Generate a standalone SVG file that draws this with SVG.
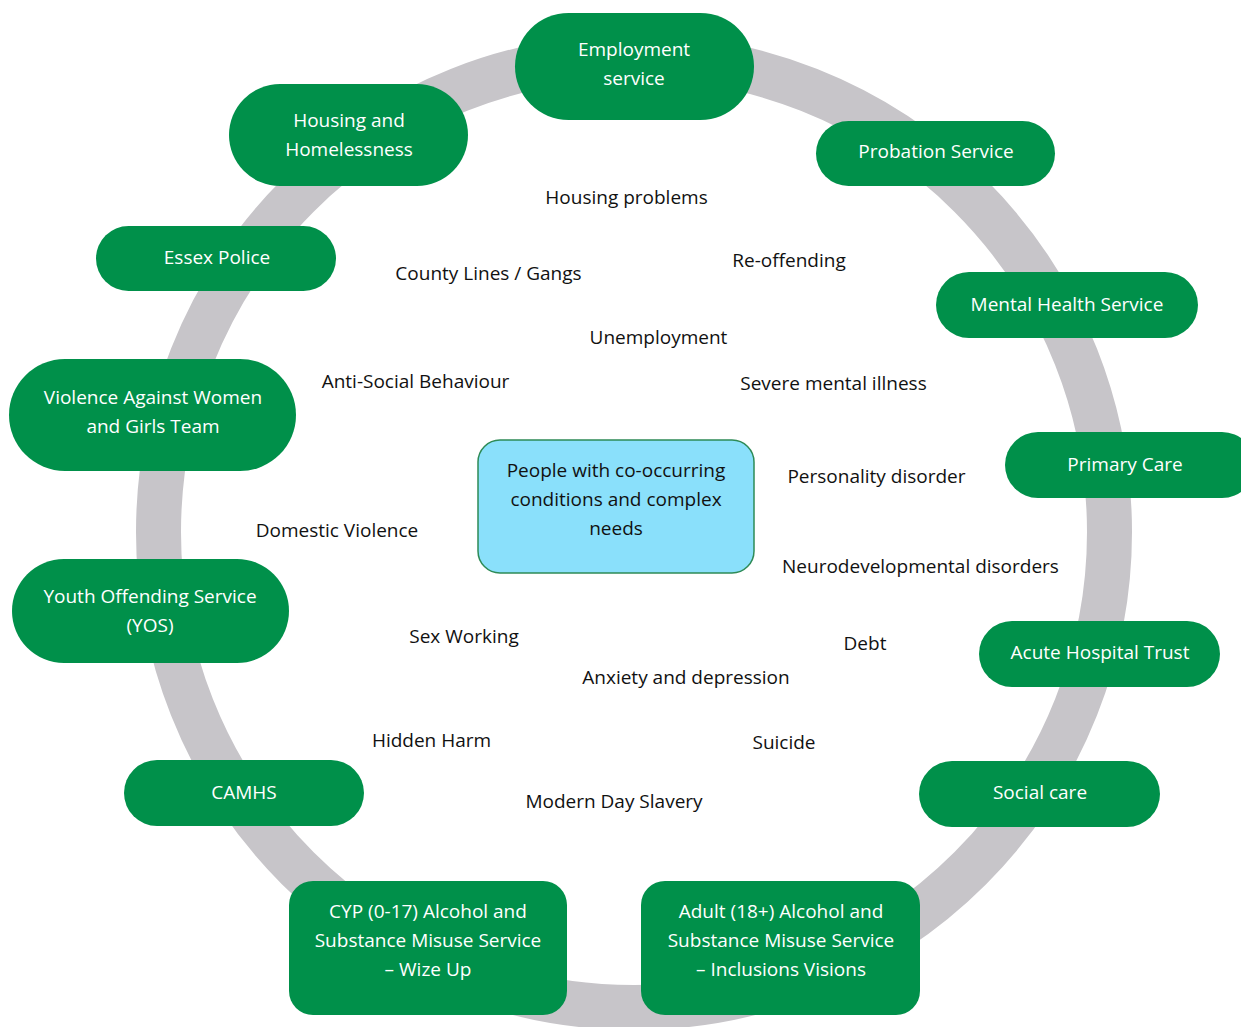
<svg xmlns="http://www.w3.org/2000/svg" width="1241" height="1027" viewBox="0 0 1241 1027">
<style>
.ring{fill:none;stroke:#c7c5c9;stroke-width:45}
.svc{fill:#00904a}
.svc-t{fill:#ffffff;font-family:"Open Sans","Liberation Sans",sans-serif;font-size:19px;text-anchor:middle;dominant-baseline:central}
.hub{fill:#8ae0fb;stroke:#2e8b57;stroke-width:1.5}
.hub-t{fill:#111111;font-family:"Open Sans","Liberation Sans",sans-serif;font-size:19px;text-anchor:middle;dominant-baseline:central}
.lbl{fill:#111111;font-family:"Open Sans","Liberation Sans",sans-serif;font-size:19px;text-anchor:middle;dominant-baseline:central}
</style>
<rect width="1241" height="1027" fill="#ffffff"/>
<g id="connectors">
<circle class="ring" cx="634" cy="532" r="475.5"/>
</g>
<g id="labels">
<text class="lbl" x="626.5" y="197">Housing problems</text>
<text class="lbl" x="488.5" y="273">County Lines / Gangs</text>
<text class="lbl" x="789" y="260">Re-offending</text>
<text class="lbl" x="658.5" y="337">Unemployment</text>
<text class="lbl" x="415.5" y="381">Anti-Social Behaviour</text>
<text class="lbl" x="833.5" y="383">Severe mental illness</text>
<text class="lbl" x="876.5" y="476">Personality disorder</text>
<text class="lbl" x="337" y="530">Domestic Violence</text>
<text class="lbl" x="920.5" y="566">Neurodevelopmental disorders</text>
<text class="lbl" x="464" y="636">Sex Working</text>
<text class="lbl" x="865" y="643">Debt</text>
<text class="lbl" x="686" y="677">Anxiety and depression</text>
<text class="lbl" x="431.5" y="740">Hidden Harm</text>
<text class="lbl" x="784" y="742">Suicide</text>
<text class="lbl" x="614" y="801">Modern Day Slavery</text>
</g>
<g id="hub">
<rect class="hub" x="478" y="440" width="276" height="133" rx="22"/>
<text class="hub-t" x="616" y="470">People with co-occurring</text>
<text class="hub-t" x="616" y="499">conditions and complex</text>
<text class="hub-t" x="616" y="528">needs</text>
</g>
<g id="employment">
<rect class="svc" x="515" y="13" width="239" height="107" rx="53.5"/>
<text class="svc-t" x="634" y="49">Employment</text>
<text class="svc-t" x="634" y="78">service</text>
</g>
<g id="housing">
<rect class="svc" x="229" y="84" width="239" height="102" rx="51"/>
<text class="svc-t" x="349" y="120">Housing and</text>
<text class="svc-t" x="349" y="149">Homelessness</text>
</g>
<g id="probation">
<rect class="svc" x="816" y="121" width="239" height="65" rx="32.5"/>
<text class="svc-t" x="936" y="151">Probation Service</text>
</g>
<g id="police">
<rect class="svc" x="96" y="226" width="240" height="65" rx="32.5"/>
<text class="svc-t" x="217" y="257">Essex Police</text>
</g>
<g id="mental-health">
<rect class="svc" x="936" y="272" width="262" height="66" rx="33"/>
<text class="svc-t" x="1067" y="304">Mental Health Service</text>
</g>
<g id="vawg">
<rect class="svc" x="9" y="359" width="287" height="112" rx="56"/>
<text class="svc-t" x="153" y="397">Violence Against Women</text>
<text class="svc-t" x="153" y="426">and Girls Team</text>
</g>
<g id="primary-care">
<rect class="svc" x="1005" y="432" width="250" height="66" rx="33"/>
<text class="svc-t" x="1125" y="464">Primary Care</text>
</g>
<g id="yos">
<rect class="svc" x="12" y="559" width="277" height="104" rx="52"/>
<text class="svc-t" x="150" y="596">Youth Offending Service</text>
<text class="svc-t" x="150" y="625">(YOS)</text>
</g>
<g id="acute">
<rect class="svc" x="979" y="621" width="241" height="66" rx="33"/>
<text class="svc-t" x="1100" y="652">Acute Hospital Trust</text>
</g>
<g id="camhs">
<rect class="svc" x="124" y="760" width="240" height="66" rx="33"/>
<text class="svc-t" x="244" y="792">CAMHS</text>
</g>
<g id="social-care">
<rect class="svc" x="919" y="761" width="241" height="66" rx="33"/>
<text class="svc-t" x="1040" y="792">Social care</text>
</g>
<g id="cyp">
<rect class="svc" x="289" y="881" width="278" height="134" rx="24"/>
<text class="svc-t" x="428" y="911">CYP (0-17) Alcohol and</text>
<text class="svc-t" x="428" y="940">Substance Misuse Service</text>
<text class="svc-t" x="428" y="969">– Wize Up</text>
</g>
<g id="adult">
<rect class="svc" x="641" y="881" width="279" height="134" rx="24"/>
<text class="svc-t" x="781" y="911">Adult (18+) Alcohol and</text>
<text class="svc-t" x="781" y="940">Substance Misuse Service</text>
<text class="svc-t" x="781" y="969">– Inclusions Visions</text>
</g>
</svg>
